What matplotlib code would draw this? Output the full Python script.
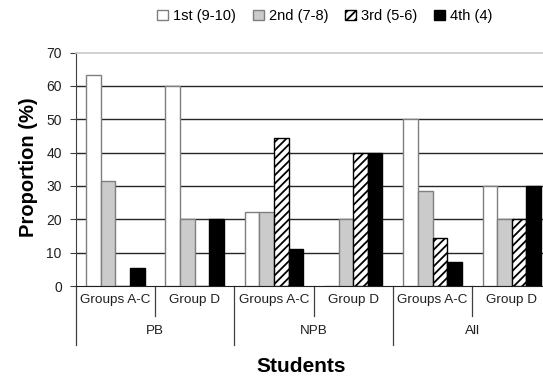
import matplotlib
matplotlib.use("Agg")
import matplotlib.pyplot as plt
from matplotlib.patches import Patch
from matplotlib.lines import Line2D
import numpy as np

plt.rcParams['font.family'] = ['Liberation Sans', 'DejaVu Sans']
plt.rcParams['hatch.linewidth'] = 1.3

sub_labels = ["Groups A-C", "Group D", "Groups A-C", "Group D", "Groups A-C", "Group D"]
main_labels = ["PB", "NPB", "All"]
series_names = ["1st (9-10)", "2nd (7-8)", "3rd (5-6)", "4th (4)"]
first = [63.2, 60.0, 22.2, 0.0, 50.0, 30.0]
second = [31.6, 20.0, 22.2, 20.0, 28.6, 20.0]
third = [0.0, 0.0, 44.4, 40.0, 14.3, 20.0]
fourth = [5.3, 20.0, 11.1, 40.0, 7.1, 30.0]
yticks = [0, 10, 20, 30, 40, 50, 60, 70]

W, H = 543, 376
fig = plt.figure(figsize=(W / 100, H / 100), dpi=100)
ax_left, ax_right, ax_top, ax_bot = 75.7, 551.5, 52.5, 286.0
ax = fig.add_axes([ax_left / W, 1 - ax_bot / H, (ax_right - ax_left) / W, (ax_bot - ax_top) / H])

x = np.arange(len(sub_labels))
bw = 0.184
styles = [
    dict(color="white", edgecolor="#7f7f7f", hatch=None),
    dict(color="#cbcbcb", edgecolor="#7f7f7f", hatch=None),
    dict(color="white", edgecolor="black", hatch="////"),
    dict(color="black", edgecolor="black", hatch=None),
]
data = [first, second, third, fourth]
for i, (vals, st) in enumerate(zip(data, styles)):
    ax.bar(x + (i - 1.5) * bw, vals, width=bw, facecolor=st["color"], edgecolor=st["edgecolor"],
           hatch=st["hatch"], linewidth=1.0, zorder=3)

ax.set_xlim(-0.5, len(sub_labels) - 0.5)
ax.set_ylim(0, 70)
ax.set_yticks(yticks)
ax.set_yticklabels([str(v) for v in yticks], fontsize=10, color="#202020")
for v in yticks[1:-1]:
    ax.axhline(v, color="#262626", linewidth=1.0, zorder=1)
ax.tick_params(axis="y", direction="out", length=4, width=0.8, color="#404040", pad=6)
ax.set_xticks([])
ax.spines["left"].set_color("#404040")
ax.spines["bottom"].set_color("#202020")
ax.spines["top"].set_color("#c8c8c8")
ax.spines["top"].set_linewidth(1.2)
ax.spines["right"].set_visible(False)

# multi-level category axis
ppu = (ax_bot - ax_top) / 70.0
def py(pix):
    return -(pix - ax_bot) / ppu

for i, lab in enumerate(sub_labels):
    ax.text(i, py(300), lab, ha="center", va="center", fontsize=9.7, color="#202020", clip_on=False)
for j, lab in enumerate(main_labels):
    ax.text(2 * j + 0.5, py(331), lab, ha="center", va="center", fontsize=9.7, color="#202020", clip_on=False)
for i in range(len(sub_labels) + 1):
    xb = i - 0.5
    if i % 2 == 0:
        ax.add_line(Line2D([xb, xb], [0, py(345)], color="#404040", linewidth=0.9, clip_on=False))
    else:
        ax.add_line(Line2D([xb, xb], [0, py(316)], color="#404040", linewidth=0.9, clip_on=False))

fig.text(301 / W, 1 - 366 / H, "Students", ha="center", va="center", fontsize=15, fontweight="bold")
fig.text(28 / W, 1 - 167 / H, "Proportion (%)", ha="center", va="center", rotation=90,
         fontsize=14.5, fontweight="bold")

handles = [Patch(facecolor=st["color"], edgecolor=("black" if st["hatch"] else st["edgecolor"]),
                 hatch=st["hatch"], linewidth=1.0) for st in styles]
fig.legend(handles, series_names, loc="center", bbox_to_anchor=(325 / W, 1 - 16 / H), ncol=4,
           frameon=False, fontsize=10.5, handlelength=0.75, handleheight=0.75, handletextpad=0.35,
           columnspacing=1.15, borderpad=0)

fig.savefig("out.png", dpi=100)
